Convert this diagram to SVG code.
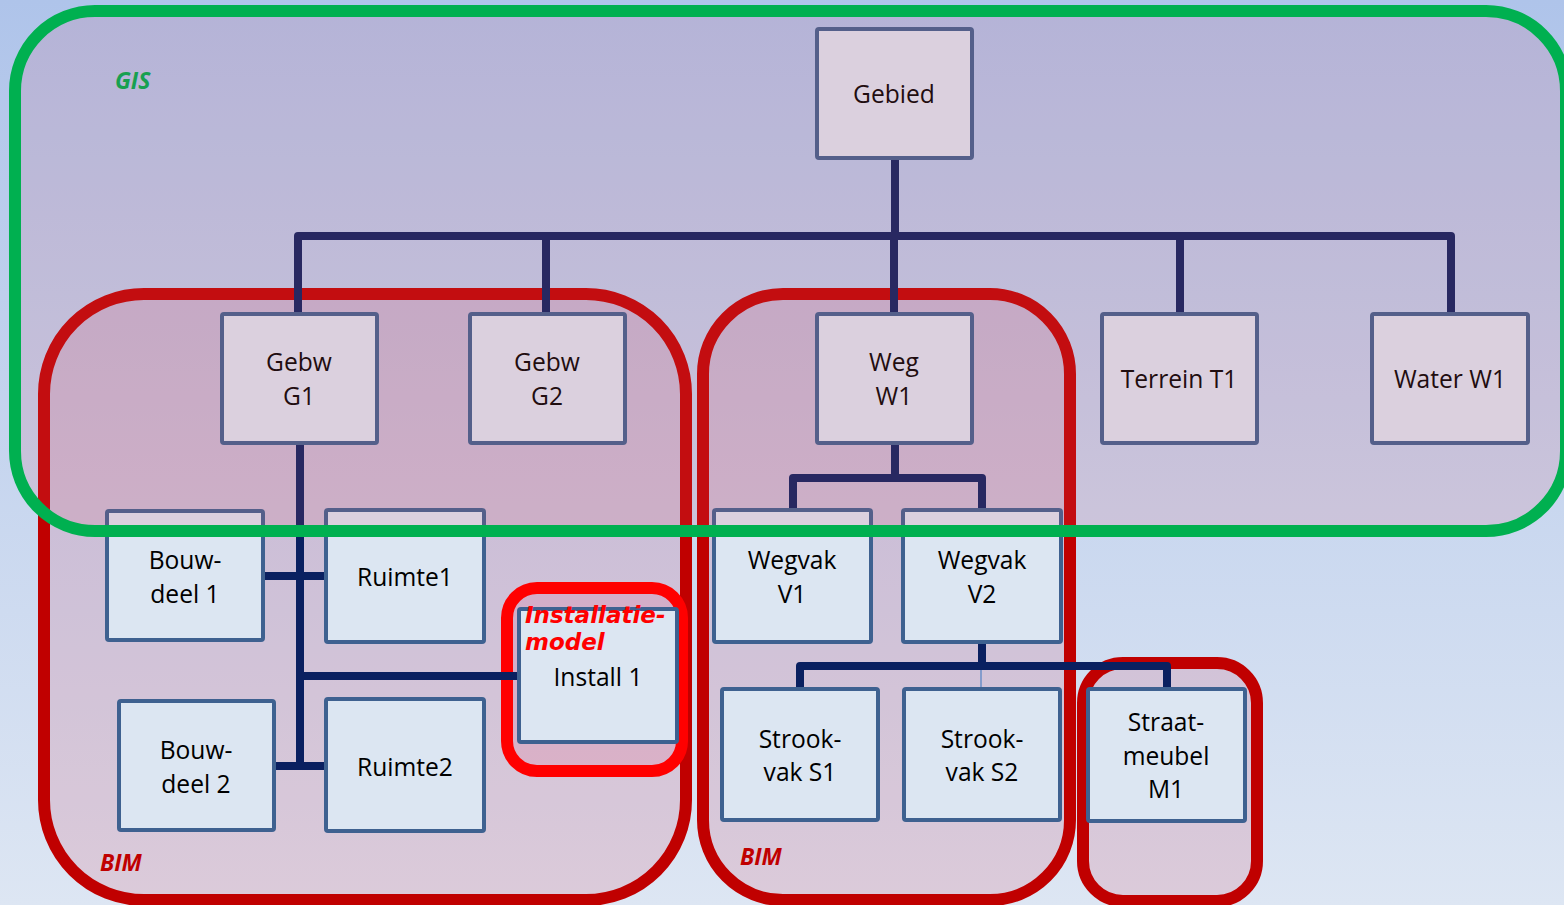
<svg xmlns="http://www.w3.org/2000/svg" width="1564" height="905" viewBox="0 0 1564 905">
<defs>
<linearGradient id="bg" x1="0" y1="0" x2="0" y2="1">
<stop offset="0" stop-color="#afc4ea"/>
<stop offset="1" stop-color="#dde6f3"/>
</linearGradient>
</defs>
<style>
.node rect{fill:#dce6f2;stroke:#3e6190;stroke-width:4}
.node text{font-family:"Open Sans","Liberation Sans",sans-serif;font-size:24.6px;fill:#000;text-anchor:middle}
.bim{fill:rgba(216,96,122,0.2);stroke:#c00000;stroke-width:12}
.conn{stroke:#0a2060;stroke-width:8;fill:none;stroke-linejoin:round}
.lbl{font-family:"Open Sans","Liberation Sans",sans-serif;font-size:23px;font-weight:bold;font-style:italic}
.inst{font-family:"DejaVu Sans",Verdana,sans-serif;font-size:23px;font-weight:bold;font-style:italic;fill:#ff0000}
</style>
<rect x="0" y="0" width="1564" height="905" fill="url(#bg)"/>
<g id="regions">
<rect id="bim-left" class="bim" x="44" y="294" width="642" height="606" rx="100"/>
<rect id="bim-mid" class="bim" x="703" y="294" width="367" height="606" rx="80"/>
<rect id="bim-straat" class="bim" x="1083" y="663" width="174" height="238" rx="40"/>
<rect id="installatie-model" x="507" y="588" width="175" height="183" rx="30" fill="rgba(255,0,60,0.1)" stroke="#ff0000" stroke-width="12"/>
</g>
<g id="connectors">
<path class="conn" d="M895 160V236M298 312V236H1451V312M546 236V312M894 236V312M1180 236V312"/>
<path class="conn" d="M300 445V766M264 576H326M300 676H519M276 766H326"/>
<path class="conn" d="M895 445V478M793 510V478H982V510"/>
<path class="conn" d="M982 642V666M800 689V666H1167V689"/>
<line x1="981" y1="670" x2="981" y2="689" stroke="#6a8fc8" stroke-width="1.5"/>
</g>
<g id="n-gebied" class="node"><rect x="817" y="29" width="155" height="129" rx="2"/><text x="894" y="103">Gebied</text></g>
<g id="n-gebw-g1" class="node"><rect x="222" y="314" width="155" height="129" rx="2"/><text x="299" y="371">Gebw</text><text x="299" y="405">G1</text></g>
<g id="n-gebw-g2" class="node"><rect x="470" y="314" width="155" height="129" rx="2"/><text x="547" y="371">Gebw</text><text x="547" y="405">G2</text></g>
<g id="n-weg-w1" class="node"><rect x="817" y="314" width="155" height="129" rx="2"/><text x="894" y="371">Weg</text><text x="894" y="405">W1</text></g>
<g id="n-terrein" class="node"><rect x="1102" y="314" width="155" height="129" rx="2"/><text x="1179" y="388">Terrein T1</text></g>
<g id="n-water" class="node"><rect x="1372" y="314" width="156" height="129" rx="2"/><text x="1450" y="388">Water W1</text></g>
<g id="n-bouwdeel1" class="node"><rect x="107" y="511" width="156" height="129" rx="2"/><text x="185" y="569">Bouw-</text><text x="185" y="603">deel 1</text></g>
<g id="n-ruimte1" class="node"><rect x="326" y="510" width="158" height="132" rx="2"/><text x="405" y="586">Ruimte1</text></g>
<g id="n-bouwdeel2" class="node"><rect x="119" y="701" width="155" height="129" rx="2"/><text x="196" y="759">Bouw-</text><text x="196" y="793">deel 2</text></g>
<g id="n-ruimte2" class="node"><rect x="326" y="699" width="158" height="132" rx="2"/><text x="405" y="776">Ruimte2</text></g>
<g id="n-install1" class="node"><rect x="519" y="609" width="158" height="133" rx="2"/><text x="598" y="686">Install 1</text></g>
<g id="n-wegvak-v1" class="node"><rect x="714" y="510" width="157" height="132" rx="2"/><text x="792" y="569">Wegvak</text><text x="792" y="603">V1</text></g>
<g id="n-wegvak-v2" class="node"><rect x="903" y="510" width="158" height="132" rx="2"/><text x="982" y="569">Wegvak</text><text x="982" y="603">V2</text></g>
<g id="n-strookvak-s1" class="node"><rect x="722" y="689" width="156" height="131" rx="2"/><text x="800" y="748">Strook-</text><text x="800" y="781">vak S1</text></g>
<g id="n-strookvak-s2" class="node"><rect x="904" y="689" width="156" height="131" rx="2"/><text x="982" y="748">Strook-</text><text x="982" y="781">vak S2</text></g>
<g id="n-straatmeubel" class="node"><rect x="1088" y="689" width="157" height="132" rx="2"/><text x="1166" y="731">Straat-</text><text x="1166" y="765">meubel</text><text x="1166" y="798">M1</text></g>
<g id="labels">
<text class="inst" x="525" y="623">Installatie-</text>
<text class="inst" x="525" y="650">model</text>
<text class="lbl" x="100" y="871" fill="#c00000">BIM</text>
<text class="lbl" x="740" y="865" fill="#c00000">BIM</text>
</g>
<g id="gis">
<rect x="15" y="11" width="1551" height="520" rx="80" fill="rgba(214,85,109,0.15)" stroke="#00b050" stroke-width="12"/>
<text class="lbl" x="115" y="89" fill="#17a050">GIS</text>
</g>
</svg>
